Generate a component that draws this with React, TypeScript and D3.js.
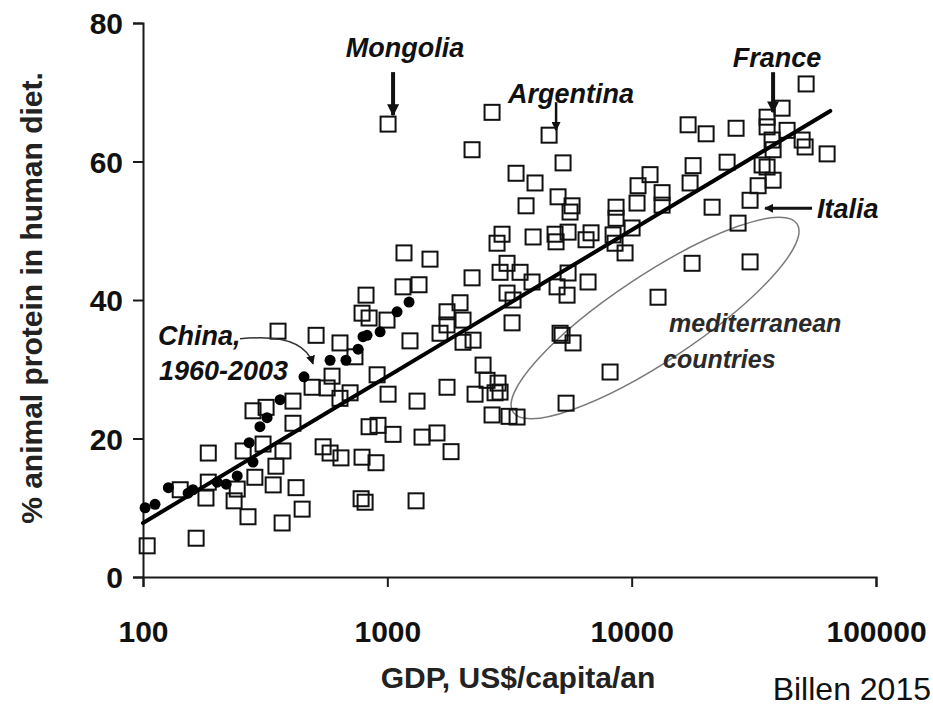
import { useEffect, useRef } from "react";
import * as d3 from "d3";

// countries (open squares)
const countryGdp = [
  357, 511, 640, 737, 594, 492, 567, 640, 704, 411, 282, 319, 411, 310, 185, 257, 374, 350, 546, 583,
  646, 788, 899, 287, 341, 423, 185, 142, 181, 243, 236, 269, 371, 448, 781, 811, 165, 104, 1170, 1495,
  818, 1159, 1348, 2222, 788, 842, 997, 1238, 908, 1007, 1323, 1755, 842, 916, 1055, 1387, 1597, 1823, 1311, 1755,
  1984, 1755, 1643, 2041, 2041, 2243, 2465, 2559, 2839, 2893, 2760, 2286, 2683, 3149, 3396, 3090, 2893, 3493, 3911, 3090,
  3270, 3239, 4951, 5093, 1007, 2683, 4592, 2222, 5239, 3364, 4023, 3696, 4997, 5702, 5595, 8632, 8632, 10620, 10520, 2812,
  2948, 3949, 4858, 4904, 5492, 6506, 6820, 8393, 8551, 9397, 10040, 5492, 6630, 5440, 11890, 13320, 13320, 17020, 20170, 26750,
  17840, 17340, 24580, 21340, 27260, 30520, 32920, 34180, 35830, 37920, 35830, 35830, 41270, 43260, 37920, 49850, 51280, 63080, 51760, 17670,
  30520, 12820, 5190, 5756, 8158, 5389, 37560,
];
const countryProtein = [
  35.5, 34.9, 33.8, 31.8, 29.0, 27.4, 27.3, 25.8, 26.6, 25.4, 24.0, 24.5, 22.2, 19.2, 17.9, 18.2, 18.2, 16.0, 18.8, 17.9,
  17.2, 17.3, 16.5, 14.4, 13.3, 12.9, 13.7, 12.6, 11.4, 12.7, 11.0, 8.7, 7.8, 9.8, 11.3, 10.8, 5.6, 4.5, 46.8, 45.9,
  40.7, 41.9, 42.2, 43.2, 38.1, 37.4, 37.1, 34.1, 29.2, 26.4, 25.4, 27.4, 21.7, 21.9, 20.6, 20.2, 20.8, 18.1, 11.0, 38.3,
  39.6, 36.4, 35.2, 37.1, 33.9, 34.2, 30.6, 28.4, 28.0, 26.7, 26.6, 26.4, 23.4, 23.2, 23.1, 45.3, 44.0, 44.0, 42.6, 41.0,
  40.0, 36.7, 41.9, 35.2, 65.4, 67.1, 63.8, 61.7, 59.8, 58.3, 56.9, 53.6, 54.9, 53.6, 52.7, 53.4, 51.8, 56.5, 54.0, 48.2,
  49.5, 49.1, 49.5, 48.4, 49.8, 48.7, 49.7, 49.4, 48.2, 46.8, 50.4, 43.9, 42.6, 40.7, 58.1, 55.5, 53.7, 65.3, 64.0, 64.8,
  59.4, 56.9, 59.9, 53.4, 51.1, 54.4, 56.5, 59.5, 59.2, 57.3, 66.4, 65.0, 67.7, 64.5, 61.7, 63.1, 62.1, 61.1, 71.2, 45.3,
  45.5, 40.4, 34.9, 33.8, 29.6, 25.1, 63.1,
];

// China 1960-2003 (black dots)
const chinaGdp = [102, 112, 127, 153, 160, 201, 219, 243, 282, 272, 301, 322, 364, 456, 583, 677, 759, 795, 826, 934, 1096, 1227];
const chinaProtein = [10.0, 10.5, 12.9, 12.1, 12.6, 13.7, 13.4, 14.6, 16.6, 19.4, 21.7, 23.0, 25.6, 28.9, 31.3, 31.3, 32.9, 34.7, 34.9, 35.4, 38.3, 39.7];

// regression line
const fitGdp = [100, 65000];
const fitProtein = [7.8, 67.3];

// mediterranean ellipse, ends of the long axis
const medGdp = [3270, 47530];
const medProtein = [23.8, 51.0];

// labelled countries
const labelNames = ["Mongolia", "Argentina", "France", "Italia"];
const labelGdp = [1007, 4592, 35830, 30520];
const labelProtein = [65.4, 63.8, 66.4, 54.4];

const xTicks = [100, 1000, 10000, 100000];
const yTicks = [0, 20, 40, 60, 80];

const font = "'Liberation Sans', Arial, sans-serif";

export default function App() {
  const width = 933;
  const height = 707;
  const ref = useRef(null);

  useEffect(() => {
    const svg = d3.select(ref.current);
    svg.selectAll("*").remove();

    const x = d3.scaleLog().domain([100, 100000]).range([143, 876]);
    const y = d3.scaleLinear().domain([0, 80]).range([577, 23]);

    const defs = svg.append("defs");
    const marker = (id, size) =>
      defs
        .append("marker")
        .attr("id", id)
        .attr("viewBox", "0 0 10 10")
        .attr("refX", 9)
        .attr("refY", 5)
        .attr("markerWidth", size)
        .attr("markerHeight", size)
        .attr("markerUnits", "userSpaceOnUse")
        .attr("orient", "auto")
        .append("path")
        .attr("d", "M0,0 L10,5 L0,10 z")
        .attr("fill", "#111");
    marker("ahBig", 12);
    marker("ahSmall", 9);

    svg.append("rect").attr("width", width).attr("height", height).attr("fill", "#fff");

    // axes
    const axisColor = "#1a1a1a";
    svg
      .append("g")
      .attr("transform", `translate(0, ${y(0)})`)
      .call(d3.axisBottom(x).tickValues(xTicks).tickSize(10).tickFormat(d3.format("d")))
      .call((g) => g.select(".domain").attr("stroke", axisColor).attr("stroke-width", 2))
      .call((g) => g.selectAll(".tick line").attr("stroke", axisColor).attr("stroke-width", 2))
      .call((g) =>
        g
          .selectAll(".tick text")
          .attr("y", 0)
          .attr("dy", 65)
          .attr("fill", "#111")
          .style("font-family", font)
          .style("font-weight", "bold")
          .style("font-size", "30px"),
      );

    svg
      .append("g")
      .attr("transform", `translate(${x(100)}, 0)`)
      .call(d3.axisLeft(y).tickValues(yTicks).tickSize(10))
      .call((g) => g.select(".domain").attr("stroke", axisColor).attr("stroke-width", 2))
      .call((g) => g.selectAll(".tick line").attr("stroke", axisColor).attr("stroke-width", 2))
      .call((g) =>
        g
          .selectAll(".tick text")
          .attr("x", -20)
          .attr("dy", "0.35em")
          .attr("fill", "#111")
          .style("font-family", font)
          .style("font-weight", "bold")
          .style("font-size", "30px"),
      );

    // axis titles
    svg
      .append("text")
      .attr("transform", "translate(42, 298) rotate(-90)")
      .attr("text-anchor", "middle")
      .attr("fill", "#222")
      .style("font-family", font)
      .style("font-weight", "bold")
      .style("font-size", "30px")
      .text("% animal protein in human diet.");

    svg
      .append("text")
      .attr("x", 518)
      .attr("y", 688)
      .attr("text-anchor", "middle")
      .attr("fill", "#222")
      .style("font-family", font)
      .style("font-weight", "bold")
      .style("font-size", "30px")
      .text("GDP, US$/capita/an");

    svg
      .append("text")
      .attr("x", 931)
      .attr("y", 700)
      .attr("text-anchor", "end")
      .attr("fill", "#111")
      .style("font-family", font)
      .style("font-size", "32px")
      .text("Billen 2015");

    // mediterranean ellipse
    const p1 = [x(medGdp[0]), y(medProtein[0])];
    const p2 = [x(medGdp[1]), y(medProtein[1])];
    const cx = (p1[0] + p2[0]) / 2;
    const cy = (p1[1] + p2[1]) / 2;
    const rx = Math.hypot(p2[0] - p1[0], p2[1] - p1[1]) / 2;
    const angle = (Math.atan2(p2[1] - p1[1], p2[0] - p1[0]) * 180) / Math.PI;
    svg
      .append("ellipse")
      .attr("cx", cx)
      .attr("cy", cy)
      .attr("rx", rx)
      .attr("ry", 43)
      .attr("transform", `rotate(${angle}, ${cx}, ${cy})`)
      .attr("fill", "none")
      .attr("stroke", "#7a7a7a")
      .attr("stroke-width", 1.5);

    const medText = svg
      .append("g")
      .attr("fill", "#2a2a2a")
      .style("font-family", font)
      .style("font-style", "italic")
      .style("font-weight", "bold")
      .style("font-size", "25px");
    medText.append("text").attr("x", cx + 14).attr("y", cy + 14).text("mediterranean");
    medText.append("text").attr("x", cx + 8).attr("y", cy + 50).text("countries");

    // country squares
    const sq = 15;
    svg
      .append("g")
      .selectAll("rect")
      .data(countryGdp.map((g, i) => [g, countryProtein[i]]))
      .join("rect")
      .attr("x", (d) => x(d[0]) - sq / 2)
      .attr("y", (d) => y(d[1]) - sq / 2)
      .attr("width", sq)
      .attr("height", sq)
      .attr("fill", "none")
      .attr("stroke", "#111")
      .attr("stroke-width", 2);

    // regression line
    svg
      .append("path")
      .datum(fitGdp.map((g, i) => [g, fitProtein[i]]))
      .attr("d", d3.line().x((d) => x(d[0])).y((d) => y(d[1])))
      .attr("fill", "none")
      .attr("stroke", "#000")
      .attr("stroke-width", 4)
      .attr("stroke-linecap", "round");

    // China dots
    svg
      .append("g")
      .selectAll("circle")
      .data(chinaGdp.map((g, i) => [g, chinaProtein[i]]))
      .join("circle")
      .attr("cx", (d) => x(d[0]))
      .attr("cy", (d) => y(d[1]))
      .attr("r", 5.5)
      .attr("fill", "#000");

    // labels with arrows
    const ann = svg
      .append("g")
      .attr("fill", "#111")
      .style("font-family", font)
      .style("font-style", "italic")
      .style("font-weight", "bold")
      .style("font-size", "27px");
    const arrow = (x1, y1, x2, y2, w, m) =>
      svg
        .append("line")
        .attr("x1", x1)
        .attr("y1", y1)
        .attr("x2", x2)
        .attr("y2", y2)
        .attr("stroke", "#111")
        .attr("stroke-width", w)
        .attr("marker-end", `url(#${m})`);

    const pos = labelGdp.map((g, i) => [x(g), y(labelProtein[i])]);
    // Mongolia
    ann.append("text").attr("x", pos[0][0] + 17).attr("y", pos[0][1] - 67).attr("text-anchor", "middle").text(labelNames[0]);
    arrow(pos[0][0] + 5, pos[0][1] - 52, pos[0][0] + 5, pos[0][1] - 9, 4, "ahBig");
    // Argentina
    ann.append("text").attr("x", pos[1][0] + 22).attr("y", pos[1][1] - 32).attr("text-anchor", "middle").text(labelNames[1]);
    arrow(pos[1][0] + 7, pos[1][1] - 33, pos[1][0] + 7, pos[1][1] - 5, 2.5, "ahSmall");
    // France
    ann.append("text").attr("x", pos[2][0] + 10).attr("y", pos[2][1] - 50).attr("text-anchor", "middle").text(labelNames[2]);
    arrow(pos[2][0] + 6, pos[2][1] - 45, pos[2][0] + 6, pos[2][1] - 5, 4, "ahBig");
    // Italia
    ann.append("text").attr("x", pos[3][0] + 67).attr("y", pos[3][1] + 18).text(labelNames[3]);
    arrow(pos[3][0] + 62, pos[3][1] + 8, pos[3][0] + 15, pos[3][1] + 8, 3, "ahSmall");

    // China label with curved arrow
    const cp = [x(chinaGdp[13]), y(chinaProtein[13])];
    ann.append("text").attr("x", cp[0] - 146).attr("y", cp[1] - 32).text("China,");
    ann.append("text").attr("x", cp[0] - 145).attr("y", cp[1] + 3).text("1960-2003");
    svg
      .append("path")
      .attr(
        "d",
        `M${cp[0] - 64},${cp[1] - 38} C${cp[0] - 25},${cp[1] - 42} ${cp[0] + 2},${cp[1] - 35} ${cp[0] + 9},${cp[1] - 13}`,
      )
      .attr("fill", "none")
      .attr("stroke", "#333")
      .attr("stroke-width", 1.5)
      .attr("marker-end", "url(#ahSmall)");
  }, []);

  return (
    <svg
      ref={ref}
      width={width}
      height={height}
      style={{ position: "absolute", left: 0, top: 0, display: "block" }}
    />
  );
}
